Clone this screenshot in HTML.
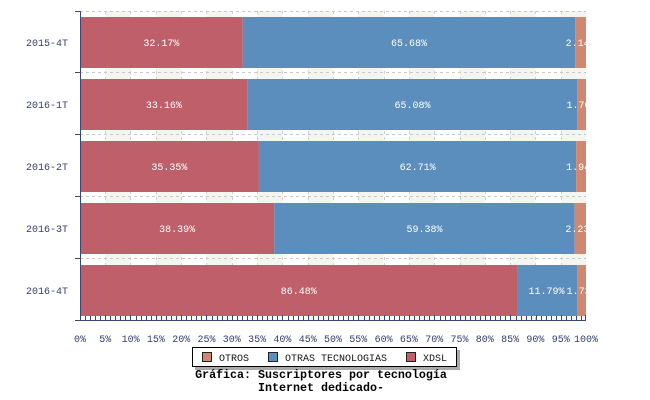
<!DOCTYPE html>
<html><head><meta charset="utf-8"><style>
html,body{margin:0;padding:0;background:#fff;}
svg{display:block;}
text{font-family:"Liberation Mono","DejaVu Sans Mono",monospace;}
</style></head><body>
<svg width="650" height="400" viewBox="0 0 650 400" xmlns="http://www.w3.org/2000/svg">
<defs><clipPath id="pc"><rect x="80" y="11" width="506" height="309"/></clipPath></defs>
<g>
<rect x="105.3" y="11" width="25.3" height="309" fill="#f5f5ef"/>
<rect x="155.9" y="11" width="25.3" height="309" fill="#f5f5ef"/>
<rect x="206.5" y="11" width="25.3" height="309" fill="#f5f5ef"/>
<rect x="257.1" y="11" width="25.3" height="309" fill="#f5f5ef"/>
<rect x="307.7" y="11" width="25.3" height="309" fill="#f5f5ef"/>
<rect x="358.3" y="11" width="25.3" height="309" fill="#f5f5ef"/>
<rect x="408.9" y="11" width="25.3" height="309" fill="#f5f5ef"/>
<rect x="459.5" y="11" width="25.3" height="309" fill="#f5f5ef"/>
<rect x="510.1" y="11" width="25.3" height="309" fill="#f5f5ef"/>
<rect x="560.7" y="11" width="25.3" height="309" fill="#f5f5ef"/>
</g>
<g stroke="#c8c8c8" stroke-width="1" stroke-dasharray="3,3">
<line x1="80" y1="11.5" x2="586" y2="11.5"/>
<line x1="80" y1="72.5" x2="586" y2="72.5"/>
<line x1="80" y1="134.5" x2="586" y2="134.5"/>
<line x1="80" y1="196.5" x2="586" y2="196.5"/>
<line x1="80" y1="258.5" x2="586" y2="258.5"/>
</g>
<g stroke="#d0d0d0" stroke-width="1" stroke-dasharray="3,3">
<line x1="105.5" y1="11" x2="105.5" y2="320"/><line x1="130.5" y1="11" x2="130.5" y2="320"/>
<line x1="156.5" y1="11" x2="156.5" y2="320"/><line x1="181.5" y1="11" x2="181.5" y2="320"/>
<line x1="206.5" y1="11" x2="206.5" y2="320"/><line x1="232.5" y1="11" x2="232.5" y2="320"/>
<line x1="257.5" y1="11" x2="257.5" y2="320"/><line x1="282.5" y1="11" x2="282.5" y2="320"/>
<line x1="308.5" y1="11" x2="308.5" y2="320"/><line x1="333.5" y1="11" x2="333.5" y2="320"/>
<line x1="358.5" y1="11" x2="358.5" y2="320"/><line x1="384.5" y1="11" x2="384.5" y2="320"/>
<line x1="409.5" y1="11" x2="409.5" y2="320"/><line x1="434.5" y1="11" x2="434.5" y2="320"/>
<line x1="460.5" y1="11" x2="460.5" y2="320"/><line x1="485.5" y1="11" x2="485.5" y2="320"/>
<line x1="510.5" y1="11" x2="510.5" y2="320"/><line x1="535.5" y1="11" x2="535.5" y2="320"/>
<line x1="561.5" y1="11" x2="561.5" y2="320"/>
</g>
<g>
<rect x="80" y="17" width="162.8" height="51" fill="#bf5f6a"/>
<rect x="242.8" y="17" width="332.4" height="51" fill="#5b8ebd"/>
<rect x="575.2" y="17" width="10.8" height="51" fill="#cf8770"/>
<rect x="80" y="79" width="167.8" height="51" fill="#bf5f6a"/>
<rect x="247.8" y="79" width="329.3" height="51" fill="#5b8ebd"/>
<rect x="577.1" y="79" width="8.9" height="51" fill="#cf8770"/>
<rect x="80" y="141" width="178.9" height="51" fill="#bf5f6a"/>
<rect x="258.9" y="141" width="317.3" height="51" fill="#5b8ebd"/>
<rect x="576.2" y="141" width="9.8" height="51" fill="#cf8770"/>
<rect x="80" y="203" width="194.3" height="51" fill="#bf5f6a"/>
<rect x="274.3" y="203" width="300.4" height="51" fill="#5b8ebd"/>
<rect x="574.7" y="203" width="11.3" height="51" fill="#cf8770"/>
<rect x="80" y="265" width="437.6" height="51" fill="#bf5f6a"/>
<rect x="517.6" y="265" width="59.7" height="51" fill="#5b8ebd"/>
<rect x="577.3" y="265" width="8.7" height="51" fill="#cf8770"/>
</g>
<g clip-path="url(#pc)" fill="#ffffff" font-size="10" text-anchor="middle">
<text x="161.4" y="46">32.17%</text><text x="409" y="46">65.68%</text><text x="580.6" y="46">2.14%</text>
<text x="163.9" y="108">33.16%</text><text x="412.5" y="108">65.08%</text><text x="581.5" y="108">1.76%</text>
<text x="169.4" y="170">35.35%</text><text x="417.6" y="170">62.71%</text><text x="581.1" y="170">1.94%</text>
<text x="177.1" y="232">38.39%</text><text x="424.5" y="232">59.38%</text><text x="580.4" y="232">2.23%</text>
<text x="298.8" y="294">86.48%</text><text x="546.5" y="294">11.79%</text><text x="581.6" y="294">1.73%</text>
</g>
<g stroke="#3b4775" stroke-width="1">
<line x1="80.5" y1="11" x2="80.5" y2="320"/>
<line x1="75" y1="320.5" x2="586" y2="320.5"/>
<line x1="75" y1="11.5" x2="80" y2="11.5"/>
<line x1="75" y1="72.5" x2="80" y2="72.5"/>
<line x1="75" y1="134.5" x2="80" y2="134.5"/>
<line x1="75" y1="196.5" x2="80" y2="196.5"/>
<line x1="75" y1="258.5" x2="80" y2="258.5"/>
</g>
<g stroke="#3b4775" stroke-width="1" id="ticks"></g>
<g fill="#34406b" font-size="10" text-anchor="end">
<text x="68" y="46">2015-4T</text>
<text x="68" y="108">2016-1T</text>
<text x="68" y="170">2016-2T</text>
<text x="68" y="232">2016-3T</text>
<text x="68" y="294">2016-4T</text>
</g>
<g fill="#34406b" font-size="10" text-anchor="middle">
<text x="80" y="342">0%</text><text x="105.3" y="342">5%</text><text x="130.6" y="342">10%</text>
<text x="155.9" y="342">15%</text><text x="181.2" y="342">20%</text><text x="206.5" y="342">25%</text>
<text x="231.8" y="342">30%</text><text x="257.1" y="342">35%</text><text x="282.4" y="342">40%</text>
<text x="307.7" y="342">45%</text><text x="333" y="342">50%</text><text x="358.3" y="342">55%</text>
<text x="383.6" y="342">60%</text><text x="408.9" y="342">65%</text><text x="434.2" y="342">70%</text>
<text x="459.5" y="342">75%</text><text x="484.8" y="342">80%</text><text x="510.1" y="342">85%</text>
<text x="535.4" y="342">90%</text><text x="560.7" y="342">95%</text><text x="586" y="342">100%</text>
</g>
<rect x="195" y="350" width="265" height="20" fill="#aaaaaa"/>
<rect x="192.5" y="347.5" width="264" height="19" fill="#ffffff" stroke="#000" stroke-width="1"/>
<rect x="202.5" y="352.5" width="9" height="9" fill="#cf8770" stroke="#222" stroke-width="1"/>
<rect x="268.5" y="352.5" width="9" height="9" fill="#5b8ebd" stroke="#222" stroke-width="1"/>
<rect x="406.5" y="352.5" width="9" height="9" fill="#bf5f6a" stroke="#222" stroke-width="1"/>
<g fill="#111" font-size="10">
<text x="219" y="361">OTROS</text>
<text x="285" y="361">OTRAS TECNOLOGIAS</text>
<text x="423" y="361">XDSL</text>
</g>
<g fill="#000" font-size="11.67" font-weight="bold" text-anchor="middle">
<text x="321" y="378">Gráfica: Suscriptores por tecnología</text>
<text x="321" y="391">Internet dedicado-</text>
</g>
<path stroke="#3b4775" stroke-width="1" fill="none" d="M85.5 320v-4M90.5 320v-4M95.5 320v-4M100.5 320v-4M105.5 320v-5M110.5 320v-4M115.5 320v-4M120.5 320v-4M125.5 320v-4M130.5 320v-5M136.5 320v-4M141.5 320v-4M146.5 320v-4M151.5 320v-4M156.5 320v-5M161.5 320v-4M166.5 320v-4M171.5 320v-4M176.5 320v-4M181.5 320v-5M186.5 320v-4M191.5 320v-4M196.5 320v-4M201.5 320v-4M206.5 320v-5M212.5 320v-4M217.5 320v-4M222.5 320v-4M227.5 320v-4M232.5 320v-5M237.5 320v-4M242.5 320v-4M247.5 320v-4M252.5 320v-4M257.5 320v-5M262.5 320v-4M267.5 320v-4M272.5 320v-4M277.5 320v-4M282.5 320v-5M288.5 320v-4M293.5 320v-4M298.5 320v-4M303.5 320v-4M308.5 320v-5M313.5 320v-4M318.5 320v-4M323.5 320v-4M328.5 320v-4M333.5 320v-5M338.5 320v-4M343.5 320v-4M348.5 320v-4M353.5 320v-4M358.5 320v-5M364.5 320v-4M369.5 320v-4M374.5 320v-4M379.5 320v-4M384.5 320v-5M389.5 320v-4M394.5 320v-4M399.5 320v-4M404.5 320v-4M409.5 320v-5M414.5 320v-4M419.5 320v-4M424.5 320v-4M429.5 320v-4M434.5 320v-5M440.5 320v-4M445.5 320v-4M450.5 320v-4M455.5 320v-4M460.5 320v-5M465.5 320v-4M470.5 320v-4M475.5 320v-4M480.5 320v-4M485.5 320v-5M490.5 320v-4M495.5 320v-4M500.5 320v-4M505.5 320v-4M510.5 320v-5M516.5 320v-4M521.5 320v-4M526.5 320v-4M531.5 320v-4M536.5 320v-5M541.5 320v-4M546.5 320v-4M551.5 320v-4M556.5 320v-4M561.5 320v-5M566.5 320v-4M571.5 320v-4M576.5 320v-4M581.5 320v-4M585.5 320v-5"/>
</svg>
</body></html>
